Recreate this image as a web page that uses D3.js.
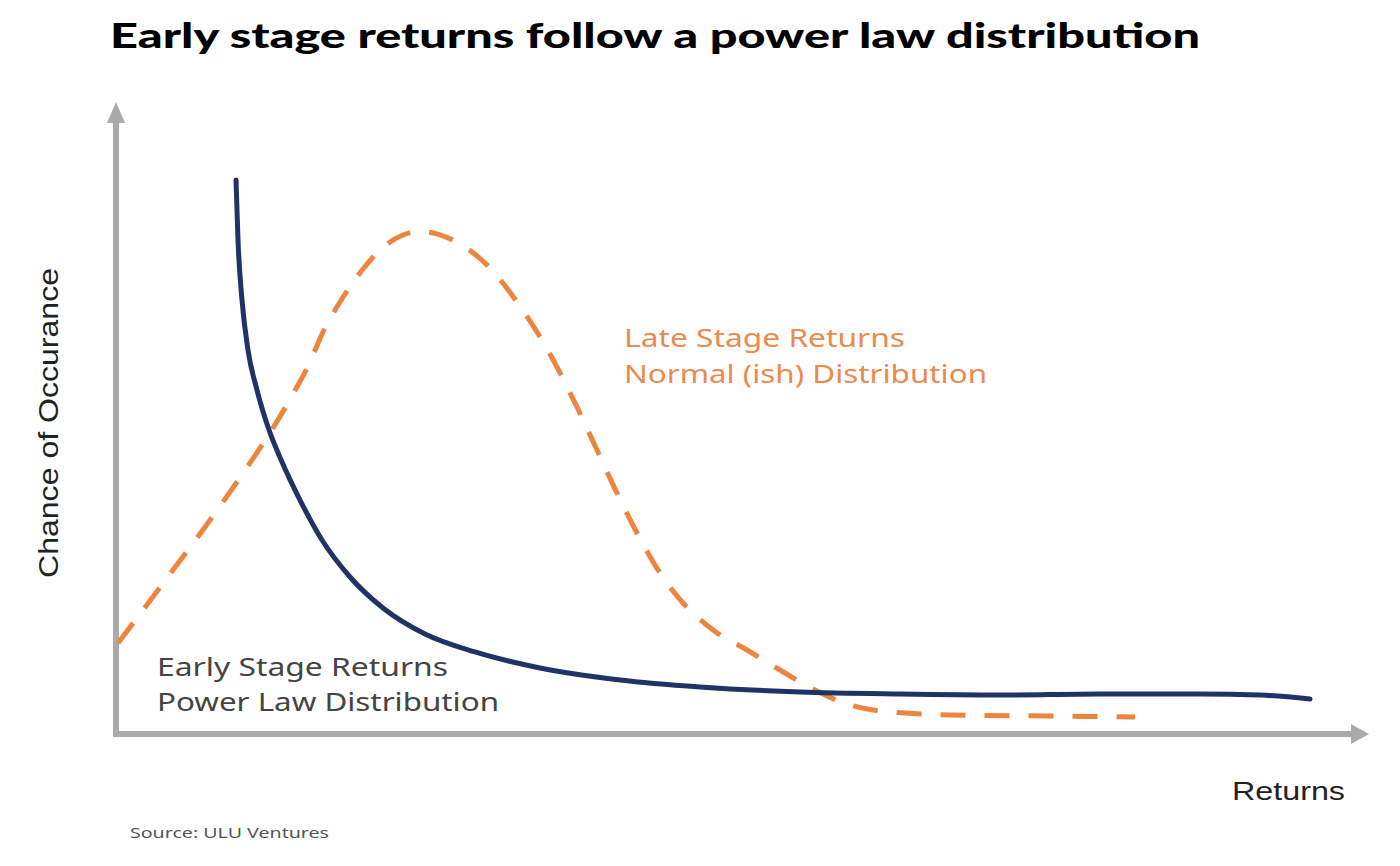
<!DOCTYPE html>
<html>
<head>
<meta charset="utf-8">
<script src="https://cdn.jsdelivr.net/npm/d3@7"></script>
<style>
  html, body { margin: 0; padding: 0; background: #ffffff; }
  svg { display: block; }
</style>
</head>
<body>
<svg id="chart" width="1400" height="866"></svg>
<script>
// ---- Data (in abstract 0-100 units) ----
const earlyReturns = [9.60, 9.76, 10.08, 10.56, 11.28, 12.16, 13.28, 14.72, 16.48, 18.72, 21.36, 24.72, 28.72, 33.92, 40.32, 46.72, 54.72, 62.72, 70.72, 78.72, 86.72, 91.52, 95.52];
const earlyChance  = [87.94, 78.41, 68.89, 60.95, 54.60, 48.73, 43.17, 37.14, 30.79, 24.92, 20.00, 15.87, 13.02, 10.48, 8.57, 7.46, 6.67, 6.35, 6.19, 6.35, 6.35, 6.19, 5.56];

const lateReturns = [0.16, 2.16, 4.32, 6.48, 8.56, 10.72, 12.56, 14.16, 15.52, 16.56, 17.92, 18.88, 19.76, 20.80, 21.92, 22.96, 23.92, 24.88, 25.92, 27.52, 29.92, 32.08, 33.68, 35.28, 36.88, 38.48, 40.08, 41.68, 43.52, 45.36, 47.76, 50.48, 53.12, 55.76, 58.48, 61.12, 66.72, 74.72, 81.52];
const lateChance  = [14.44, 19.68, 25.40, 31.11, 36.83, 43.02, 48.57, 53.97, 59.05, 63.81, 68.57, 71.43, 73.81, 76.19, 78.10, 79.21, 79.68, 79.68, 79.21, 77.78, 73.97, 68.57, 63.81, 58.25, 51.90, 45.08, 38.25, 31.90, 25.56, 20.79, 16.51, 13.33, 10.16, 7.14, 4.76, 3.65, 3.02, 2.86, 2.70];

const titleText = "Early stage returns follow a power law distribution";
const yAxisLabel = "Chance of Occurance";
const xAxisLabel = "Returns";
const lateLabel = ["Late Stage Returns", "Normal (ish) Distribution"];
const earlyLabel = ["Early Stage Returns", "Power Law Distribution"];
const sourceText = "Source: ULU Ventures";

// ---- Layout ----
const svg = d3.select("#chart");
const x = d3.scaleLinear().domain([0, 100]).range([116, 1366]);
const y = d3.scaleLinear().domain([0, 100]).range([734, 104]);

const axisColor = "#aaaaaa";
const navy = "#1f3466";
const orange = "#ed8440";

// Title
svg.append("text")
  .attr("x", 110).attr("y", 48)
  .attr("font-family", "Lato, 'Open Sans', sans-serif")
  .attr("font-weight", 900)
  .attr("font-size", 35)
  .attr("fill", "#000")
  .attr("textLength", 1090)
  .attr("lengthAdjust", "spacingAndGlyphs")
  .text(titleText);

// Axes (lines with arrowheads)
const x0 = x(0), y0 = y(0);
const yTop = 102, xRight = 1369;
svg.append("line")
  .attr("x1", x0).attr("y1", y0 + 3)
  .attr("x2", x0).attr("y2", yTop + 18)
  .attr("stroke", axisColor).attr("stroke-width", 6);
svg.append("path")
  .attr("d", `M${x0},${yTop} L${x0 + 9},${yTop + 21} L${x0 - 9},${yTop + 21} Z`)
  .attr("fill", axisColor);
svg.append("line")
  .attr("x1", x0 - 3).attr("y1", y0)
  .attr("x2", xRight - 16).attr("y2", y0)
  .attr("stroke", axisColor).attr("stroke-width", 6);
svg.append("path")
  .attr("d", `M${xRight},${y0} L${xRight - 18},${y0 - 10} L${xRight - 18},${y0 + 10} Z`)
  .attr("fill", axisColor);

// Curves
const line = d3.line()
  .x(d => x(d[0]))
  .y(d => y(d[1]))
  .curve(d3.curveMonotoneX);

const lateData = lateReturns.map((r, i) => [r, lateChance[i]]);
const earlyData = earlyReturns.map((r, i) => [r, earlyChance[i]]);

svg.append("path")
  .datum(lateData)
  .attr("d", line)
  .attr("fill", "none")
  .attr("stroke", orange)
  .attr("stroke-width", 5)
  .attr("stroke-dasharray", "25,19");

svg.append("path")
  .datum(earlyData)
  .attr("d", line)
  .attr("fill", "none")
  .attr("stroke", navy)
  .attr("stroke-width", 5)
  .attr("stroke-linecap", "round");

// Annotation labels
const fontBody = "'Noto Sans', 'Open Sans', sans-serif";
svg.append("text")
  .attr("x", 624).attr("y", 347)
  .attr("font-family", fontBody).attr("font-size", 26)
  .attr("fill", "#eb8a4d")
  .attr("textLength", 281).attr("lengthAdjust", "spacingAndGlyphs")
  .text(lateLabel[0]);
svg.append("text")
  .attr("x", 624).attr("y", 383)
  .attr("font-family", fontBody).attr("font-size", 26)
  .attr("fill", "#eb8a4d")
  .attr("textLength", 363).attr("lengthAdjust", "spacingAndGlyphs")
  .text(lateLabel[1]);

svg.append("text")
  .attr("x", 157).attr("y", 676)
  .attr("font-family", fontBody).attr("font-size", 26)
  .attr("fill", "#444444")
  .attr("textLength", 291).attr("lengthAdjust", "spacingAndGlyphs")
  .text(earlyLabel[0]);
svg.append("text")
  .attr("x", 157).attr("y", 711)
  .attr("font-family", fontBody).attr("font-size", 26)
  .attr("fill", "#444444")
  .attr("textLength", 342).attr("lengthAdjust", "spacingAndGlyphs")
  .text(earlyLabel[1]);

// Axis titles
svg.append("text")
  .attr("transform", "translate(58,423) rotate(-90)")
  .attr("text-anchor", "middle")
  .attr("font-family", "'Liberation Sans', Arial, sans-serif")
  .attr("font-size", 27)
  .attr("fill", "#222")
  .attr("textLength", 310).attr("lengthAdjust", "spacingAndGlyphs")
  .text(yAxisLabel);

svg.append("text")
  .attr("x", 1232).attr("y", 800)
  .attr("font-family", "'Liberation Sans', Arial, sans-serif")
  .attr("font-size", 26)
  .attr("fill", "#222")
  .attr("textLength", 113).attr("lengthAdjust", "spacingAndGlyphs")
  .text(xAxisLabel);

// Source
svg.append("text")
  .attr("x", 130).attr("y", 838)
  .attr("font-family", fontBody).attr("font-size", 14)
  .attr("fill", "#555")
  .attr("textLength", 199).attr("lengthAdjust", "spacingAndGlyphs")
  .text(sourceText);
</script>
</body>
</html>
